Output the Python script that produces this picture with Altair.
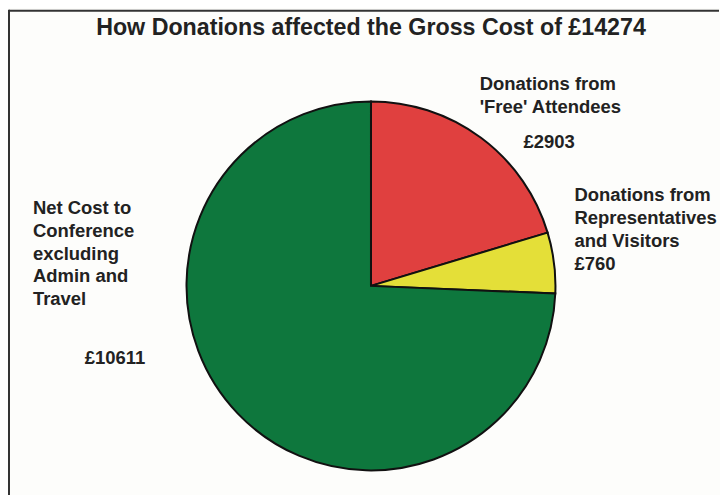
import altair as alt
import pandas as pd

title_text = "How Donations affected the Gross Cost of £14274"
categories = ["Donations from 'Free' Attendees", "Donations from Representatives and Visitors",
              "Net Cost to Conference excluding Admin and Travel"]
values = [2903, 760, 10611]
colors = ["#e0403f", "#e4df38", "#0e773d"]
label_lines = [
    "Donations from\n'Free' Attendees",
    "Donations from\nRepresentatives\nand Visitors\n£760",
    "Net Cost to\nConference\nexcluding\nAdmin and\nTravel",
]
amount_labels = ["£2903", "", "£10611"]

df = pd.DataFrame({"category": categories, "value": values, "order": [0, 1, 2]})

FONT = "Liberation Sans"
CX, CY, R = 363, 277, 185

pie = alt.Chart(df).mark_arc(outerRadius=R, stroke="#111", strokeWidth=2).encode(
    theta=alt.Theta("value:Q", stack=True),
    order=alt.Order("order:Q"),
    color=alt.Color("category:N", scale=alt.Scale(domain=categories, range=colors), legend=None),
    x=alt.value(CX), y=alt.value(CY),
)

def text_layer(txt, x, y, size=18.5, align="left", lh=22.8):
    d = pd.DataFrame({"t": [txt]})
    return alt.Chart(d).mark_text(
        font=FONT, fontSize=size, fontWeight="bold", color="#222", align=align,
        baseline="alphabetic", lineBreak="\n", lineHeight=lh,
    ).encode(text="t:N", x=alt.value(x), y=alt.value(y))

layers = [
    pie,
    text_layer(title_text, 363, 25, size=23.3, align="center"),
    text_layer(label_lines[0], 472, 81),
    text_layer(amount_labels[0], 516, 139),
    text_layer(label_lines[1], 567, 192, lh=23),
    text_layer(label_lines[2], 24, 205),
    text_layer(amount_labels[2], 76, 355),
]

frame_top = alt.Chart(pd.DataFrame({"a": [0]})).mark_rule(color="#333", strokeWidth=2).encode(
    x=alt.value(0), x2=alt.value(712), y=alt.value(1))
frame_left = alt.Chart(pd.DataFrame({"a": [0]})).mark_rule(color="#333", strokeWidth=2).encode(
    x=alt.value(0), y=alt.value(0), y2=alt.value(487))

chart = alt.layer(*layers, frame_top, frame_left).properties(
    width=710, height=476, padding=0, background="#fdfdfb",
).configure_view(stroke=None)

chart.save("out.html", embed_options={"renderer": "svg", "actions": False})
